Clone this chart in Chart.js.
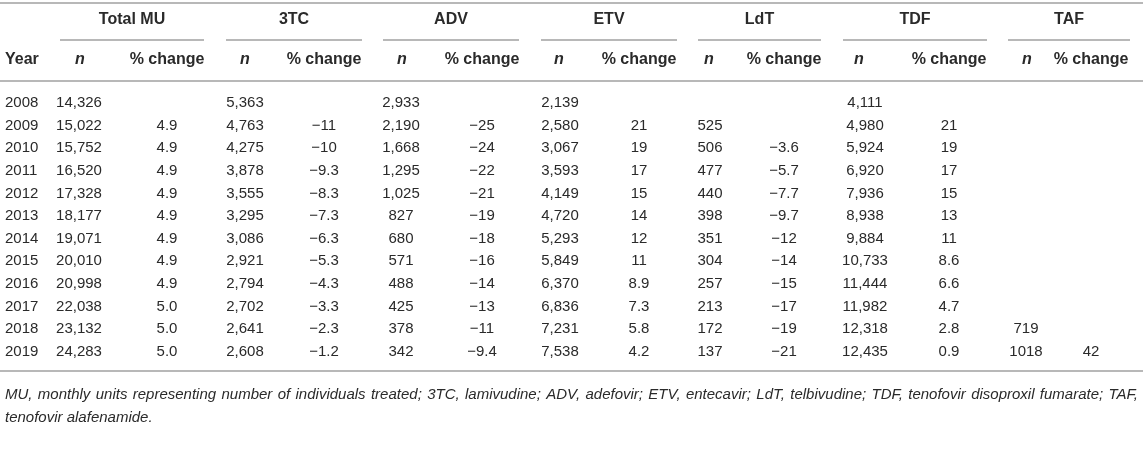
<!DOCTYPE html>
<html>
<head>
<meta charset="utf-8">
<script src="https://cdn.jsdelivr.net/npm/chart.js@4.4.0/dist/chart.umd.min.js"></script>
<style>
  html, body { margin: 0; padding: 0; background: #fff; }
  #wrap { width: 1143px; height: 460px; position: relative; }
</style>
</head>
<body>
<div id="wrap"><canvas id="myChart"></canvas></div>
<script>
// table data
const years = ['2008', '2009', '2010', '2011', '2012', '2013', '2014', '2015', '2016', '2017', '2018', '2019'];
const groups = ['Total MU', '3TC', 'ADV', 'ETV', 'LdT', 'TDF', 'TAF'];
const totalN = ['14,326', '15,022', '15,752', '16,520', '17,328', '18,177', '19,071', '20,010', '20,998', '22,038', '23,132', '24,283'];
const totalPct = ['', '4.9', '4.9', '4.9', '4.9', '4.9', '4.9', '4.9', '4.9', '5.0', '5.0', '5.0'];
const tcN = ['5,363', '4,763', '4,275', '3,878', '3,555', '3,295', '3,086', '2,921', '2,794', '2,702', '2,641', '2,608'];
const tcPct = ['', '\u221211', '\u221210', '\u22129.3', '\u22128.3', '\u22127.3', '\u22126.3', '\u22125.3', '\u22124.3', '\u22123.3', '\u22122.3', '\u22121.2'];
const advN = ['2,933', '2,190', '1,668', '1,295', '1,025', '827', '680', '571', '488', '425', '378', '342'];
const advPct = ['', '\u221225', '\u221224', '\u221222', '\u221221', '\u221219', '\u221218', '\u221216', '\u221214', '\u221213', '\u221211', '\u22129.4'];
const etvN = ['2,139', '2,580', '3,067', '3,593', '4,149', '4,720', '5,293', '5,849', '6,370', '6,836', '7,231', '7,538'];
const etvPct = ['', '21', '19', '17', '15', '14', '12', '11', '8.9', '7.3', '5.8', '4.2'];
const ldtN = ['', '525', '506', '477', '440', '398', '351', '304', '257', '213', '172', '137'];
const ldtPct = ['', '', '\u22123.6', '\u22125.7', '\u22127.7', '\u22129.7', '\u221212', '\u221214', '\u221215', '\u221217', '\u221219', '\u221221'];
const tdfN = ['4,111', '4,980', '5,924', '6,920', '7,936', '8,938', '9,884', '10,733', '11,444', '11,982', '12,318', '12,435'];
const tdfPct = ['', '21', '19', '17', '15', '13', '11', '8.6', '6.6', '4.7', '2.8', '0.9'];
const tafN = ['', '', '', '', '', '', '', '', '', '', '719', '1018'];
const tafPct = ['', '', '', '', '', '', '', '', '', '', '', '42'];
const footnote1 = 'MU, monthly units representing number of individuals treated; 3TC, lamivudine; ADV, adefovir; ETV, entecavir; LdT, telbivudine; TDF, tenofovir disoproxil fumarate; TAF,';
const footnote2 = 'tenofovir alafenamide.';

const nCols = [totalN, tcN, advN, etvN, ldtN, tdfN, tafN];
const pctCols = [totalPct, tcPct, advPct, etvPct, ldtPct, tdfPct, tafPct];

// layout (pixel units of the hidden linear scales)
const W = 1143, H = 460;
const yearX = 5;
const nX = [79, 245, 401, 560, 710, 865, 1026];
const nHeadX = [80, 245, 402, 559, 709, 859, 1027];
const pctX = [167, 324, 482, 639, 784, 949, 1091];
const groupSpan = [[60, 204], [226, 362], [383, 519], [541, 677], [698, 821], [843, 987], [1008, 1130]];
const rowTop = 103, rowStep = 22.6;
const topLineY = 3, groupY = 20, groupLineY = 40, headY = 60, headLineY = 81;
const bottomLineY = 371, foot1Y = 395, foot2Y = 418;

const FONT = '"Liberation Sans", Arial, Helvetica, sans-serif';
const TEXT = '#2a2a2a';
const RULE = '#a0a0a0';

function column(values, x, align) {
  return {
    data: values.map((v, i) => ({ x: x, y: rowTop + i * rowStep })),
    labels: values,
    align: align,
    pointRadius: 0,
    showLine: false
  };
}

const datasets = [column(years, yearX, 'left')];
nCols.forEach((c, i) => {
  datasets.push(column(c, nX[i], 'center'));
  datasets.push(column(pctCols[i], pctX[i], 'center'));
});

const tablePlugin = {
  id: 'tablePlugin',
  afterDatasetsDraw(chart) {
    const ctx = chart.ctx;
    const xs = chart.scales.x, ys = chart.scales.y;
    const px = v => xs.getPixelForValue(v);
    const py = v => ys.getPixelForValue(v);
    ctx.save();

    // rules
    ctx.strokeStyle = RULE;
    ctx.lineWidth = 1.5;
    function hline(x0, x1, y) {
      ctx.beginPath();
      ctx.moveTo(px(x0), py(y));
      ctx.lineTo(px(x1), py(y));
      ctx.stroke();
    }
    hline(0, W, topLineY);
    groupSpan.forEach(s => hline(s[0], s[1], groupLineY));
    hline(0, W, headLineY);
    hline(0, W, bottomLineY);

    // headers
    ctx.fillStyle = TEXT;
    ctx.textBaseline = 'middle';
    ctx.font = 'bold 16px ' + FONT;
    ctx.textAlign = 'center';
    groups.forEach((g, i) => ctx.fillText(g, px((groupSpan[i][0] + groupSpan[i][1]) / 2), py(groupY)));
    ctx.textAlign = 'left';
    ctx.fillText('Year', px(yearX), py(headY));
    ctx.textAlign = 'center';
    pctX.forEach(x => ctx.fillText('% change', px(x), py(headY)));
    ctx.font = 'italic bold 16px ' + FONT;
    nHeadX.forEach(x => ctx.fillText('n', px(x), py(headY)));

    // cells
    ctx.font = '15px ' + FONT;
    chart.data.datasets.forEach((ds, di) => {
      const meta = chart.getDatasetMeta(di);
      ctx.textAlign = ds.align;
      meta.data.forEach((el, j) => {
        if (ds.labels[j]) ctx.fillText(ds.labels[j], el.x, el.y);
      });
    });

    // footnote, first line justified
    ctx.font = 'italic 15px ' + FONT;
    ctx.textAlign = 'left';
    const words = footnote1.split(' ');
    const left = px(5), right = px(W - 5);
    const widths = words.map(w => ctx.measureText(w).width);
    const gap = (right - left - widths.reduce((a, b) => a + b, 0)) / (words.length - 1);
    let cx = left;
    words.forEach((w, i) => {
      ctx.fillText(w, cx, py(foot1Y));
      cx += widths[i] + gap;
    });
    ctx.fillText(footnote2, left, py(foot2Y));

    ctx.restore();
  }
};

const config = {
  type: 'scatter',
  data: { datasets: datasets },
  options: {
    responsive: true,
    maintainAspectRatio: false,
    animation: false,
    events: [],
    layout: { padding: 0 },
    plugins: { legend: { display: false }, tooltip: { enabled: false } },
    scales: {
      x: { type: 'linear', min: 0, max: W, display: false },
      y: { type: 'linear', min: 0, max: H, reverse: true, display: false }
    }
  },
  plugins: [tablePlugin]
};

const myChart = new Chart(document.getElementById('myChart'), config);
</script>
</body>
</html>
